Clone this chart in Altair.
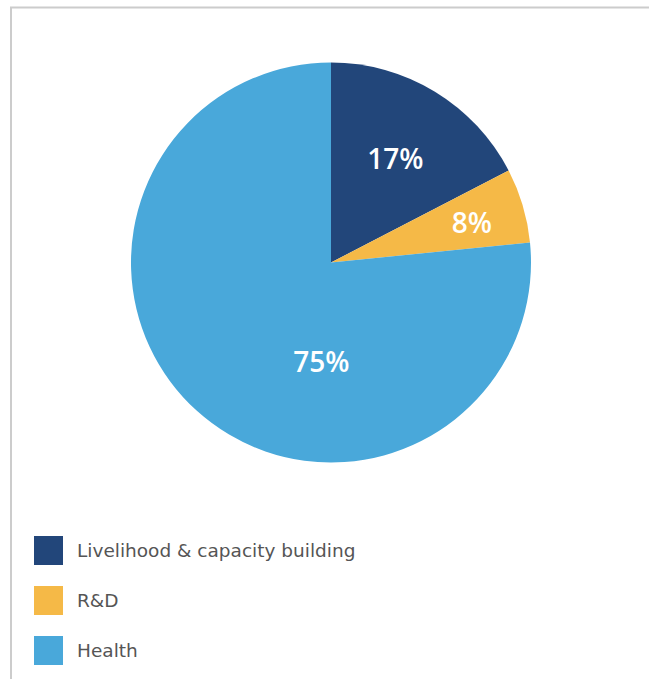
import altair as alt
import pandas as pd

categories = ["Livelihood & capacity building", "R&D", "Health"]
values = [17.4, 6.0, 76.6]
labels = ["17%", "8%", "75%"]
colors = ["#22467A", "#F5B947", "#49A8DA"]

df = pd.DataFrame({
    "category": categories,
    "value": values,
    "label": labels,
    "idx": list(range(len(categories))),
})

CX, CY, R = 331, 262.5, 200

base = alt.Chart(df)

color_enc = alt.Color(
    "category:N",
    scale=alt.Scale(domain=categories, range=colors),
    sort=categories,
    legend=alt.Legend(
        title=None,
        orient="none",
        legendX=34,
        legendY=536,
        symbolType="square",
        symbolSize=841,
        symbolStrokeWidth=0,
        rowPadding=21,
        labelFontSize=18.5,
        labelFont="DejaVu Sans",
        labelColor="#555555",
        labelOffset=14,
        labelLimit=400,
    ),
)

pie = base.mark_arc(outerRadius=R).encode(
    theta=alt.Theta("value:Q", stack=True),
    color=color_enc,
    order=alt.Order("idx:Q"),
    x=alt.value(CX),
    y=alt.value(CY),
)


def slice_label(which, radius):
    return base.transform_filter(alt.datum.idx < 2).transform_calculate(
        shown=f"datum.idx == {which} ? datum.label : ''"
    ).mark_text(
        radius=radius, dy=4, font="Open Sans", fontSize=28, fontWeight=600, color="white"
    ).encode(
        theta=alt.Theta("value:Q", stack=True),
        order=alt.Order("idx:Q"),
        text="shown:N",
        x=alt.value(CX),
        y=alt.value(CY),
    )


lab_a = slice_label(0, 124)
lab_b = slice_label(1, 147)

lab_big = base.transform_filter(alt.datum.idx == 2).mark_text(
    radius=98, theta=3.24, dy=4, font="Open Sans", fontSize=28, fontWeight=600, color="white"
).encode(
    text="label:N",
    x=alt.value(CX),
    y=alt.value(CY),
)

border_top = base.transform_filter(alt.datum.idx == 0).mark_rule(
    color="#cccccc", strokeWidth=2
).encode(x=alt.value(10), x2=alt.value(649), y=alt.value(7.5))
border_left = base.transform_filter(alt.datum.idx == 0).mark_rule(
    color="#cccccc", strokeWidth=2
).encode(x=alt.value(11), y=alt.value(7), y2=alt.value(679))

chart = alt.layer(border_top, border_left, pie, lab_a, lab_b, lab_big).properties(
    width=649, height=679, padding=0, autosize="none",
    background="white",
).configure_view(stroke=None)

chart.save("out.html", embed_options={"renderer": "svg", "actions": False})
